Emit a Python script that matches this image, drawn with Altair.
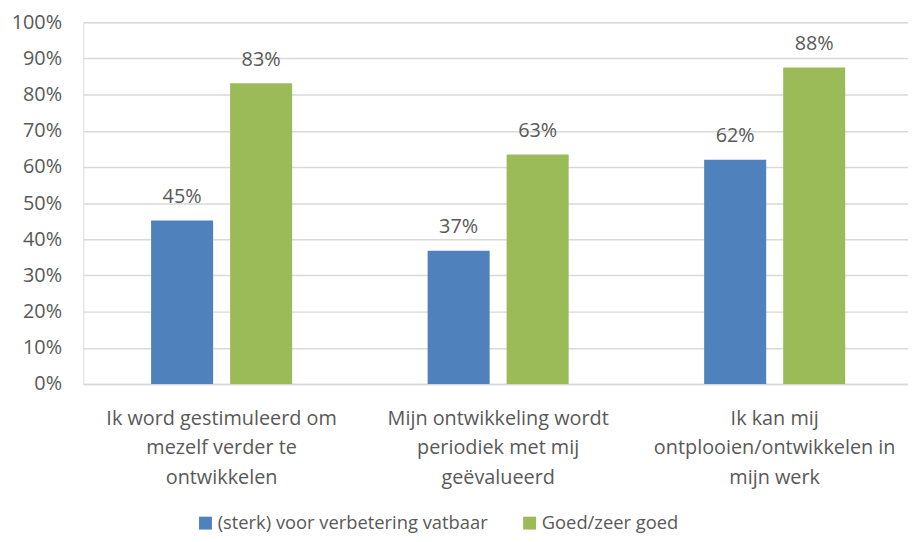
import altair as alt
import pandas as pd

categories = [
    "Ik word gestimuleerd om|mezelf verder te|ontwikkelen",
    "Mijn ontwikkeling wordt|periodiek met mij|geëvalueerd",
    "Ik kan mij|ontplooien/ontwikkelen in|mijn werk",
]
series = ["(sterk) voor verbetering vatbaar", "Goed/zeer goed"]
verbetering = [0.452, 0.368, 0.620]
goed = [0.831, 0.634, 0.875]
colors = ["#4F81BD", "#9BBB59"]
y_ticks = [0.0, 0.1, 0.2, 0.3, 0.4, 0.5, 0.6, 0.7, 0.8, 0.9, 1.0]

rows = []
for i, c in enumerate(categories):
    rows.append({"cat": c, "serie": series[0], "value": verbetering[i]})
    rows.append({"cat": c, "serie": series[1], "value": goed[i]})
df = pd.DataFrame(rows)

FONT = "Open Sans"
TXT = "#595959"
FS = 20

x = alt.X("cat:N", sort=categories,
          scale=alt.Scale(paddingInner=0.49, paddingOuter=0.245),
          axis=alt.Axis(title=None, labelAngle=0, labelExpr="split(datum.label, '|')",
                        labelFontSize=FS, labelFont=FONT, labelColor=TXT,
                        labelLineHeight=29.5, labelPadding=25, ticks=False,
                        labelLimit=400, labelBaseline="top",
                        domainColor="#d9d9d9", domainWidth=1.5))
xo = alt.XOffset("serie:N", sort=series, scale=alt.Scale(paddingInner=0.215, paddingOuter=0))
y = alt.Y("value:Q", scale=alt.Scale(domain=[0, 1]),
          axis=alt.Axis(title=None, format=".0%", values=y_ticks,
                        labelFontSize=FS, labelFont=FONT, labelColor=TXT,
                        ticks=False, domain=False, labelPadding=22, labelOverlap=False,
                        gridColor="#d9d9d9", gridWidth=1.5))

base = alt.Chart(df)
bars = base.mark_bar().encode(
    x=x, xOffset=xo, y=y,
    color=alt.Color("serie:N", sort=series, scale=alt.Scale(domain=series, range=colors),
                    legend=alt.Legend(title=None, orient="none", direction="horizontal",
                                      legendX=114, legendY=496,
                                      symbolType="square", symbolSize=170,
                                      symbolStrokeWidth=0, labelFontSize=18.5,
                                      labelFont=FONT, labelColor=TXT, labelLimit=400,
                                      columnPadding=32, labelOffset=3)),
)
labels = base.mark_text(dy=-24, fontSize=FS, font=FONT, color=TXT).encode(
    x=x, xOffset=xo, y=y,
    text=alt.Text("value:Q", format=".0%"),
)

chart = (bars + labels).properties(
    width=837, height=365,
    autosize=alt.AutoSizeParams(type="none"),
    padding={"top": 12, "left": 76, "right": -5, "bottom": 148},
).configure_view(stroke=None).configure(background="white")

chart.save("out.html", embed_options={"renderer": "svg", "actions": False})
